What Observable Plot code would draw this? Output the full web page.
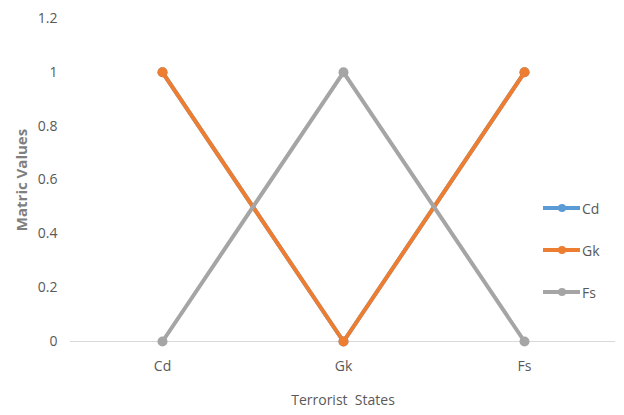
<!DOCTYPE html>
<html>
<head>
<meta charset="utf-8">
<script src="https://cdn.jsdelivr.net/npm/d3@7"></script>
<script src="https://cdn.jsdelivr.net/npm/@observablehq/plot@0.6"></script>
<style>
  html, body { margin: 0; padding: 0; background: #fff; }
  #wrap { position: relative; width: 624px; height: 415px; font-family: "Open Sans", Lato, sans-serif; }
  .leg { position: absolute; display: flex; align-items: center; font-size: 14px; color: #595959; }
  .leg .ln { position: relative; width: 37px; height: 3.5px; margin-right: 2px; }
  .leg .dt { position: absolute; left: 14.5px; top: -2.25px; width: 8px; height: 8px; border-radius: 50%; }
</style>
</head>
<body>
<div id="wrap"></div>
<script>
const states = ["Cd", "Gk", "Fs"];
const seriesNames = ["Cd", "Gk", "Fs"];
const cdValues = [1, 0, 1];
const gkValues = [1, 0, 1];
const fsValues = [0, 1, 0];
const yTicks = [0, 0.2, 0.4, 0.6, 0.8, 1, 1.2];
const colors = ["#5B9BD5", "#ED7D31", "#A5A5A5"];

const seriesValues = [cdValues, gkValues, fsValues];
const data = seriesNames.flatMap((s, i) => states.map((st, j) => ({series: s, state: st, value: seriesValues[i][j]})));

const marks = [Plot.ruleY([0], {stroke: "#d9d9d9", strokeWidth: 1})];
seriesNames.forEach((s, i) => {
  const d = data.filter(r => r.series === s);
  marks.push(Plot.line(d, {x: "state", y: "value", stroke: colors[i], strokeWidth: 4}));
  marks.push(Plot.dot(d, {x: "state", y: "value", fill: colors[i], r: 5}));
});

const chart = Plot.plot({
  width: 624,
  height: 415,
  marginLeft: 70,
  marginRight: 9,
  marginTop: 18,
  marginBottom: 74,
  style: {fontFamily: '"Open Sans", Lato, sans-serif', fontSize: "13px", color: "#595959", background: "#fff"},
  x: {type: "point", domain: states, padding: 0.5, label: null},
  y: {domain: [0, 1.2], label: null},
  marks: [
    ...marks,
    Plot.axisX({ticks: states, tickSize: 0, tickPadding: 20, fontSize: 14, fill: "#595959", label: "Terrorist  States", labelAnchor: "center", labelArrow: "none", labelOffset: 63}),
    Plot.axisY({ticks: yTicks, tickSize: 0, tickPadding: 13, fontSize: 14, fill: "#595959", tickFormat: d => String(d), label: null}),
    Plot.text(["Matric Values"], {frameAnchor: "left", textAnchor: "middle", dx: -48, rotate: -90, fontSize: 15, fontWeight: "bold", fill: "#7f7f7f"})
  ]
});
const wrap = document.getElementById("wrap");
wrap.appendChild(chart);

const legTops = [208, 250, 292];
seriesNames.forEach((s, i) => {
  const el = document.createElement("div");
  el.className = "leg";
  el.style.left = "543px";
  el.style.top = (legTops[i] - 10) + "px";
  el.style.height = "20px";
  el.innerHTML = `<span class="ln" style="background:${colors[i]}"><span class="dt" style="background:${colors[i]}"></span></span><span>${s}</span>`;
  wrap.appendChild(el);
});
</script>
</body>
</html>
